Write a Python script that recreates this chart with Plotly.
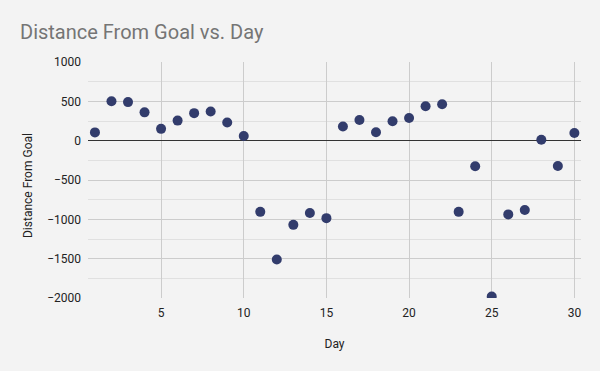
import plotly.graph_objects as go

days = list(range(1, 31))
distance = [105, 500, 490, 360, 150, 255, 350, 370, 230, 60,
            -905, -1510, -1070, -920, -985, 180, 263, 106, 246, 288,
            437, 462, -905, -326, -1980, -937, -882, 12, -322, 98]

x_ticks = [5, 10, 15, 20, 25, 30]
y_ticks = [-2000, -1500, -1000, -500, 0, 500, 1000]

fig = go.Figure()
fig.add_trace(go.Scatter(
    x=days, y=distance, mode="markers",
    marker=dict(color="#323c6c", size=10, line=dict(width=0)),
    showlegend=False,
))

fig.update_layout(
    width=600, height=371,
    paper_bgcolor="#f3f3f3", plot_bgcolor="#f3f3f3",
    font=dict(family="Roboto", color="#222222", size=12),
    margin=dict(l=88, r=19, t=62, b=73),
    title=dict(text="Distance From Goal vs. Day", x=20/600, xanchor="left",
               xref="container", yref="container", y=1 - 32/371, yanchor="middle",
               font=dict(size=20, color="#757575", family="Roboto")),
    xaxis=dict(range=[0.58, 30.4], tickvals=x_ticks, showgrid=True,
               gridcolor="#cccccc", gridwidth=1, zeroline=False, showline=False,
               ticks="", ticklabelstandoff=6,
               title=dict(text="Day", standoff=20, font=dict(size=12))),
    yaxis=dict(range=[-2000, 1000], tickvals=y_ticks, showgrid=True,
               gridcolor="#cccccc", gridwidth=1, zeroline=True,
               zerolinecolor="#333333", zerolinewidth=1, showline=False,
               ticks="", ticklabelstandoff=6,
               minor=dict(dtick=250, showgrid=True, gridcolor="#e0e0e0", gridwidth=1)),
    annotations=[dict(text="Distance From Goal", textangle=-90, showarrow=False,
                      xref="paper", yref="paper", x=(28 - 88) / 493, y=(298 - 186) / 236,
                      xanchor="center", yanchor="middle",
                      font=dict(size=12, color="#222222", family="Roboto"))],
)

fig.write_html("out.html", config={"displayModeBar": False},
               post_script="document.body.style.margin='0';document.body.style.background='#f3f3f3';")
